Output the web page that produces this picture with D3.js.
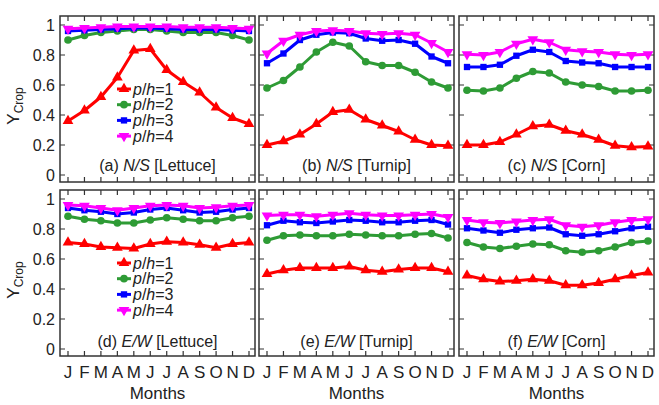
<!DOCTYPE html>
<html>
<head>
<meta charset="utf-8">
<script src="https://cdn.jsdelivr.net/npm/d3@7"></script>
<style>
  body { margin: 0; background: #fff; }
  svg { display: block; font-family: "Liberation Sans", Arial, sans-serif; }
</style>
</head>
<body>
<div id="chart"></div>
<script>
var months = ["J","F","M","A","M","J","J","A","S","O","N","D"];
var yTicks = [0, 0.2, 0.4, 0.6, 0.8, 1];
var yTickLabels = ["0", "0.2", "0.4", "0.6", "0.8", "1"];
var seriesNames = ["p/h=1", "p/h=2", "p/h=3", "p/h=4"];
var seriesColors = ["#ff0000", "#2e9b35", "#0000ff", "#ff00ff"];

// N/S rows
var nsLettuce = [
  [0.36,0.43,0.52,0.65,0.83,0.84,0.70,0.62,0.55,0.45,0.38,0.34],
  [0.90,0.93,0.95,0.96,0.97,0.97,0.96,0.95,0.95,0.95,0.93,0.90],
  [0.96,0.965,0.97,0.975,0.98,0.98,0.975,0.97,0.97,0.97,0.965,0.96],
  [0.975,0.98,0.985,0.99,0.99,0.99,0.99,0.985,0.985,0.985,0.98,0.975]
];
var nsTurnip = [
  [0.20,0.225,0.27,0.34,0.42,0.435,0.37,0.33,0.29,0.235,0.20,0.195],
  [0.58,0.63,0.72,0.82,0.885,0.86,0.755,0.73,0.73,0.685,0.62,0.58],
  [0.745,0.81,0.90,0.935,0.95,0.945,0.91,0.895,0.90,0.875,0.79,0.745],
  [0.81,0.895,0.935,0.96,0.965,0.96,0.945,0.94,0.945,0.935,0.88,0.82]
];
var nsCorn = [
  [0.20,0.20,0.22,0.27,0.325,0.335,0.295,0.27,0.235,0.195,0.185,0.19],
  [0.565,0.56,0.58,0.645,0.69,0.68,0.62,0.60,0.59,0.56,0.56,0.565],
  [0.72,0.72,0.735,0.795,0.835,0.82,0.76,0.75,0.745,0.72,0.72,0.72],
  [0.805,0.80,0.82,0.875,0.905,0.885,0.835,0.825,0.82,0.805,0.80,0.805]
];
// E/W rows
var ewLettuce = [
  [0.71,0.70,0.68,0.675,0.67,0.70,0.715,0.71,0.695,0.675,0.70,0.71],
  [0.885,0.865,0.855,0.84,0.84,0.86,0.875,0.865,0.855,0.855,0.875,0.885],
  [0.94,0.925,0.915,0.90,0.91,0.93,0.94,0.925,0.91,0.915,0.93,0.94],
  [0.96,0.955,0.94,0.925,0.94,0.955,0.96,0.955,0.94,0.945,0.955,0.96]
];
var ewTurnip = [
  [0.50,0.525,0.54,0.54,0.54,0.55,0.525,0.515,0.53,0.54,0.54,0.515],
  [0.725,0.755,0.76,0.755,0.755,0.765,0.76,0.755,0.755,0.765,0.77,0.74],
  [0.825,0.855,0.845,0.84,0.85,0.86,0.855,0.845,0.845,0.855,0.86,0.83],
  [0.89,0.895,0.895,0.885,0.895,0.905,0.895,0.89,0.89,0.895,0.90,0.88]
];
var ewCorn = [
  [0.49,0.465,0.45,0.455,0.465,0.455,0.425,0.425,0.44,0.465,0.49,0.51],
  [0.71,0.68,0.67,0.685,0.70,0.695,0.655,0.645,0.655,0.68,0.71,0.72],
  [0.805,0.79,0.775,0.795,0.805,0.81,0.765,0.755,0.765,0.785,0.805,0.815],
  [0.86,0.845,0.84,0.85,0.86,0.865,0.825,0.815,0.825,0.845,0.86,0.865]
];

var panels = [
  {data: nsLettuce, tag: "(a) ", dir: "N/S", crop: " [Lettuce]", col: 0, row: 0, legend: true},
  {data: nsTurnip,  tag: "(b) ", dir: "N/S", crop: " [Turnip]",  col: 1, row: 0},
  {data: nsCorn,    tag: "(c) ", dir: "N/S", crop: " [Corn]",    col: 2, row: 0},
  {data: ewLettuce, tag: "(d) ", dir: "E/W", crop: " [Lettuce]", col: 0, row: 1, legend: true},
  {data: ewTurnip,  tag: "(e) ", dir: "E/W", crop: " [Turnip]",  col: 1, row: 1},
  {data: ewCorn,    tag: "(f) ", dir: "E/W", crop: " [Corn]",    col: 2, row: 1}
];

var W = 659, H = 405;
var colX = [60, 259, 459], rowY = [16, 190];
var pw = 195, ph = 166;

var svg = d3.select("#chart").append("svg")
    .attr("width", W).attr("height", H);

var x = d3.scalePoint().domain(d3.range(12)).range([8, 189]);
var y = d3.scaleLinear().domain([0, 1]).range([159, 9]);

var symbols = [d3.symbolTriangle, d3.symbolCircle, d3.symbolSquare, d3.symbolTriangle];
var symSizes = [50, 46, 40, 50];
var symRot = [0, 0, 0, 180];

panels.forEach(function(p) {
  var g = svg.append("g")
      .attr("transform", "translate(" + colX[p.col] + "," + rowY[p.row] + ")");

  // ticks, inward on all four sides
  g.selectAll(".xt").data(d3.range(12)).enter().append("path")
    .attr("d", function(d){ return "M" + x(d) + "," + ph + "v-5M" + x(d) + ",0v5"; })
    .attr("stroke", "#333").attr("stroke-width", 1.2);
  g.selectAll(".yt").data(yTicks).enter().append("path")
    .attr("d", function(d){ return "M0," + y(d) + "h5M" + pw + "," + y(d) + "h-5"; })
    .attr("stroke", "#333").attr("stroke-width", 1.2);

  // lines and markers
  p.data.forEach(function(vals, i) {
    g.append("path")
      .datum(vals)
      .attr("fill", "none")
      .attr("stroke", seriesColors[i])
      .attr("stroke-width", 3)
      .attr("stroke-linejoin", "round")
      .attr("d", d3.line().x(function(d, k){ return x(k); }).y(function(d){ return y(d); }));
    g.selectAll(".m" + i).data(vals).enter().append("path")
      .attr("transform", function(d, k){ return "translate(" + x(k) + "," + y(d) + ") rotate(" + symRot[i] + ")"; })
      .attr("d", d3.symbol().type(symbols[i]).size(symSizes[i]))
      .attr("fill", seriesColors[i]);
  });

  // frame
  g.append("rect").attr("width", pw).attr("height", ph)
    .attr("fill", "none").attr("stroke", "#333").attr("stroke-width", 1.5);

  // panel label
  var t = g.append("text")
    .attr("x", pw / 2).attr("y", p.row === 0 ? 155 : 157)
    .attr("text-anchor", "middle")
    .style("font-size", "16px").attr("fill", "#222");
  t.append("tspan").text(p.tag);
  t.append("tspan").style("font-style", "italic").text(p.dir);
  t.append("tspan").text(p.crop);

  // y tick labels in first column
  if (p.col === 0) {
    g.selectAll(".yl").data(yTicks).enter().append("text")
      .attr("x", -5).attr("y", function(d){ return y(d); })
      .attr("dy", "0.36em")
      .attr("text-anchor", "end")
      .style("font-size", "16px").attr("fill", "#222")
      .text(function(d, k){ return yTickLabels[k]; });

    var yl = svg.append("text")
      .attr("transform", "translate(19," + (rowY[p.row] + 90) + ") rotate(-90)")
      .attr("text-anchor", "middle")
      .style("font-size", "17px").attr("fill", "#222");
    yl.append("tspan").text("Y");
    yl.append("tspan").attr("dy", 4).style("font-size", "12px").text("Crop");
  }

  // month labels on bottom row
  if (p.row === 1) {
    g.selectAll(".ml").data(months).enter().append("text")
      .attr("x", function(d, k){ return x(k); }).attr("y", ph + 22)
      .attr("text-anchor", "middle")
      .style("font-size", "17px").attr("fill", "#222")
      .text(function(d){ return d; });
    g.append("text")
      .attr("x", pw / 2).attr("y", ph + 43)
      .attr("text-anchor", "middle")
      .style("font-size", "17px").attr("fill", "#222")
      .text("Months");
  }

  // legend
  if (p.legend) {
    var lg = g.selectAll(".lg").data(seriesNames).enter().append("g")
      .attr("transform", function(d, i){ return "translate(57," + (73 + i * 15.7) + ")"; });
    lg.append("line").attr("x1", 0).attr("x2", 14)
      .attr("stroke", function(d, i){ return seriesColors[i]; }).attr("stroke-width", 3);
    lg.append("path")
      .attr("transform", function(d, i){ return "translate(7,0) rotate(" + symRot[i] + ")"; })
      .attr("d", function(d, i){ return d3.symbol().type(symbols[i]).size(symSizes[i])(); })
      .attr("fill", function(d, i){ return seriesColors[i]; });
    var lt = lg.append("text").attr("x", 16).attr("dy", "0.35em")
      .style("font-size", "16px").attr("fill", "#222");
    lt.append("tspan").style("font-style", "italic").text("p");
    lt.append("tspan").text("/");
    lt.append("tspan").style("font-style", "italic").text("h");
    lt.append("tspan").text(function(d){ return d.slice(3); });
  }
});
</script>
</body>
</html>
